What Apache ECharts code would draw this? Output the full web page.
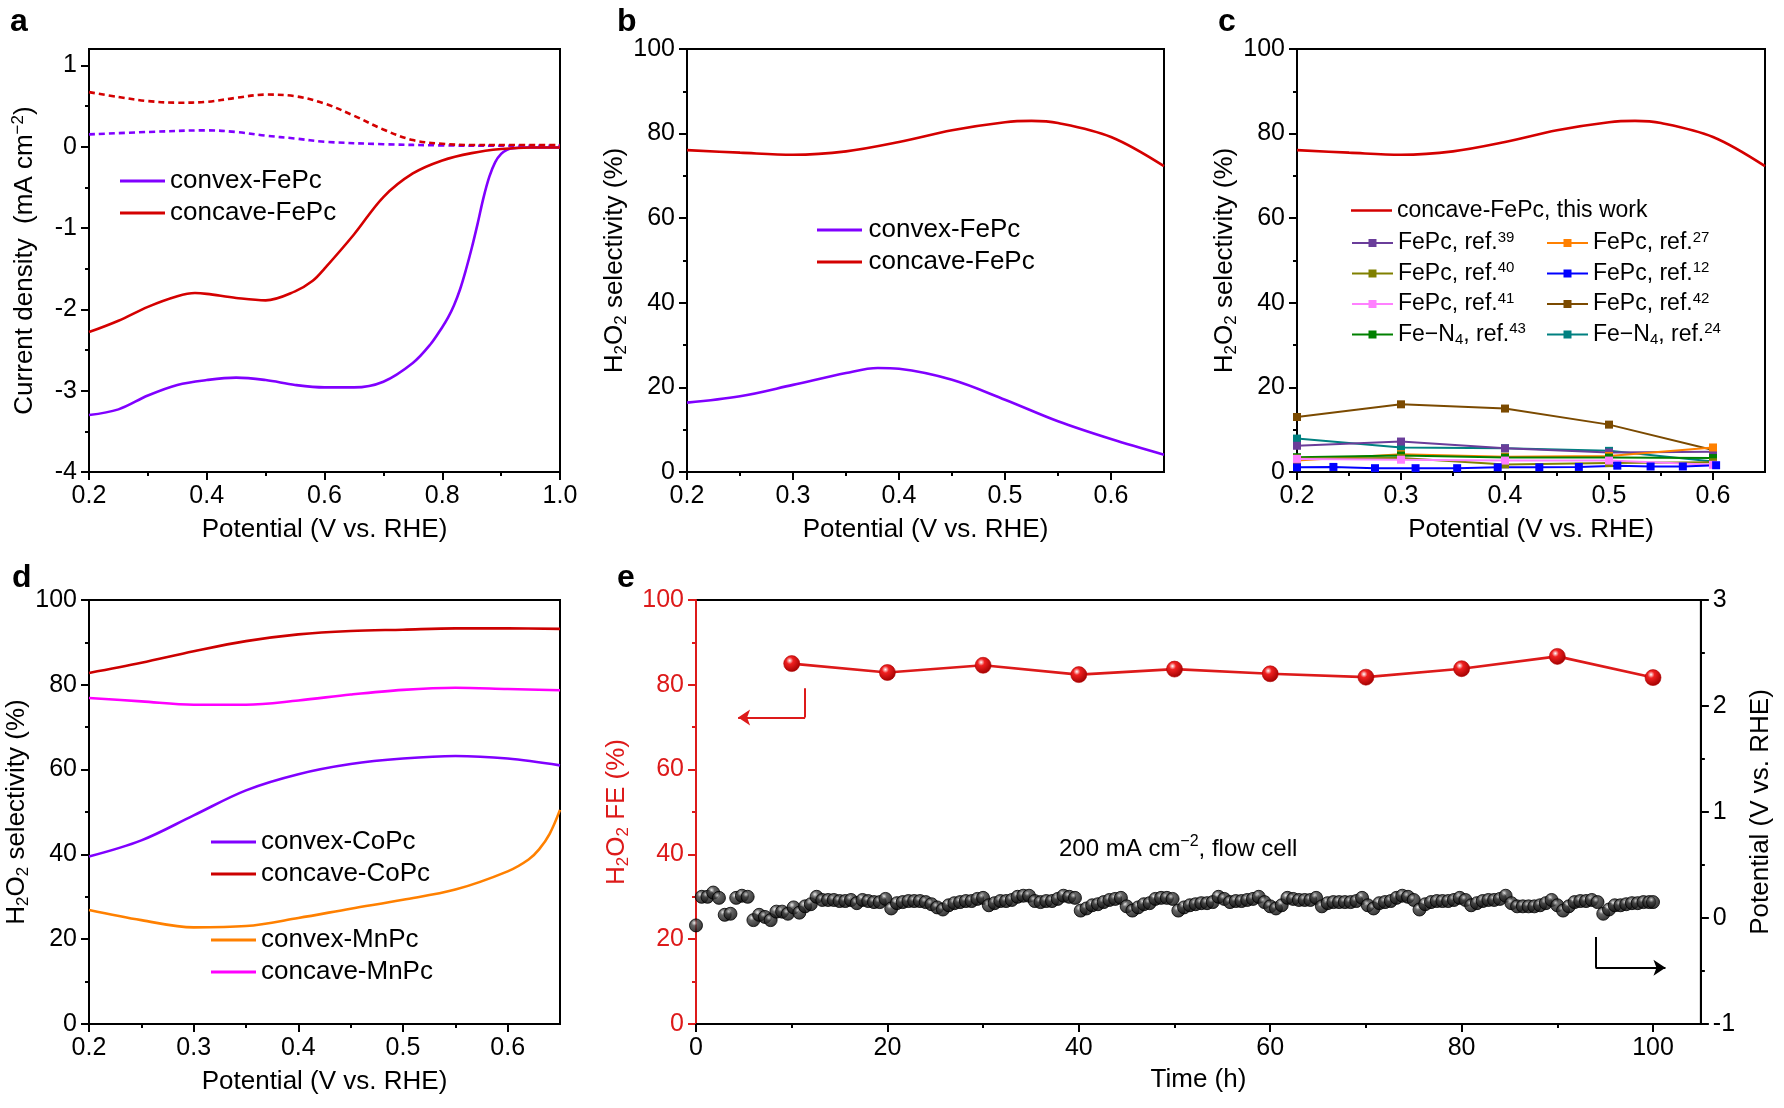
<!DOCTYPE html>
<html><head><meta charset="utf-8">
<script src="https://cdn.jsdelivr.net/npm/echarts@6.0.0/dist/echarts.min.js"></script>
<style>html,body{margin:0;padding:0;background:#fff}#chart{width:1784px;height:1108px}</style>
</head><body><div id="chart"></div>
<script>
// ---------------- DATA ----------------
// Panel a: LSV (solid = disk current, dashed = ring current)
const aConvexX = [0.2,0.25,0.3,0.35,0.4,0.45,0.5,0.55,0.6,0.65,0.7,0.75,0.78,0.8,0.81,0.82,0.83,0.84,0.85,0.86,0.87,0.88,0.89,0.9,0.91,0.92,0.94,1.0];
const aConvexY = [-3.30,-3.23,-3.06,-2.93,-2.87,-2.84,-2.87,-2.93,-2.96,-2.96,-2.89,-2.66,-2.43,-2.22,-2.10,-1.95,-1.76,-1.52,-1.25,-0.95,-0.63,-0.37,-0.19,-0.09,-0.04,-0.02,-0.01,-0.01];
const aConcaveX = [0.2,0.25,0.3,0.35,0.38,0.4,0.45,0.5,0.55,0.58,0.6,0.65,0.7,0.75,0.8,0.85,0.9,0.95,1.0];
const aConcaveY = [-2.28,-2.14,-1.97,-1.84,-1.80,-1.81,-1.86,-1.89,-1.78,-1.65,-1.50,-1.08,-0.62,-0.33,-0.17,-0.08,-0.03,-0.01,-0.01];
const aRingConcaveX = [0.2,0.25,0.3,0.35,0.4,0.45,0.5,0.55,0.6,0.65,0.7,0.75,0.8,0.85,0.9,1.0];
const aRingConcaveY = [0.67,0.61,0.56,0.54,0.55,0.60,0.64,0.62,0.53,0.38,0.21,0.08,0.035,0.02,0.02,0.02];
const aRingConvexX = [0.2,0.3,0.4,0.45,0.5,0.55,0.6,0.7,0.8,0.9,1.0];
const aRingConvexY = [0.15,0.18,0.20,0.18,0.135,0.10,0.06,0.03,0.015,0.01,0.01];

// Panel b: H2O2 selectivity
const bX = [0.2,0.25,0.3,0.35,0.4,0.45,0.5,0.525,0.55,0.6,0.65];
const bConcave = [76.1,75.5,75.0,75.8,78.0,80.8,82.7,83.0,82.5,79.2,72.3];
const bConvexX = [0.2,0.25,0.3,0.35,0.38,0.4,0.45,0.5,0.55,0.6,0.65];
const bConvex = [16.4,17.9,20.6,23.4,24.6,24.4,21.8,17.1,12.0,7.8,4.1];

// Panel c: comparison with literature
const cX = [0.2,0.3,0.4,0.5,0.6];
const cRef39 = [6.2,7.2,5.6,4.6,4.8];
const cRef40 = [3.2,3.3,1.8,2.1,2.3];
const cRef41 = [3.1,2.9,2.7,2.7,1.7];
const cRef43 = [3.5,3.9,3.4,3.4,3.3];
const cRef27 = [2.7,4.2,3.6,3.8,5.8];
const cRef42 = [13.0,16.0,15.0,11.2,5.2];
const cRef24 = [7.9,5.8,5.6,5.0,2.5];
const cRef12X = [0.2,0.235,0.275,0.314,0.354,0.393,0.433,0.471,0.508,0.54,0.571,0.603];
const cRef12 = [1.1,1.2,0.9,0.9,0.9,1.1,1.1,1.2,1.5,1.3,1.3,1.6];

// Panel d
const dX = [0.2,0.25,0.3,0.35,0.4,0.45,0.5,0.55,0.6,0.65];
const dConcaveCo = [82.8,85.2,87.9,90.3,91.9,92.7,93.0,93.3,93.3,93.2];
const dConcaveMn = [76.9,76.1,75.3,75.3,76.3,77.7,78.8,79.3,79.0,78.7];
const dConvexCo = [39.5,43.3,49.2,55.1,58.9,61.3,62.6,63.2,62.6,61.0];
const dConvexMnX = [0.2,0.25,0.3,0.35,0.4,0.45,0.5,0.55,0.6,0.62,0.63,0.64,0.65];
const dConvexMn = [26.9,24.5,22.8,23.1,25.0,27.2,29.3,31.7,36.0,38.8,41.2,44.8,50.5];

// Panel e: stability
const eTime = [10,20,30,40,50,60,70,80,90,100];
const eFE = [85.0,82.9,84.6,82.4,83.7,82.6,81.8,83.8,86.7,81.7];
const ePotential = [[0,-0.07],[0.6,0.20],[1.2,0.20],[1.8,0.24],[2.4,0.19],[3.0,0.03],[3.6,0.04],[4.2,0.19],[4.8,0.21],[5.4,0.20],
[6.0,-0.02],[6.6,0.03],[7.2,0.01],[7.8,-0.02],[8.4,0.06],[9.0,0.06],[9.6,0.04],[10.2,0.10],[10.8,0.05],[11.4,0.11],
[12.0,0.13],[12.6,0.20],[13.2,0.17],[13.8,0.17],[14.4,0.17],[15.0,0.16],[15.6,0.16],[16.2,0.17],[16.8,0.14],[17.4,0.17],
[18.0,0.16],[18.6,0.15],[19.2,0.15],[19.8,0.18],[20.4,0.09],[21.0,0.14],[21.6,0.15],[22.2,0.16],[22.8,0.16],[23.4,0.16],
[24.0,0.15],[24.6,0.13],[25.2,0.10],[25.8,0.08],[26.4,0.12],[27.0,0.14],[27.6,0.15],[28.2,0.16],[28.8,0.16],[29.4,0.18],
[30.0,0.19],[30.6,0.12],[31.2,0.14],[31.8,0.16],[32.4,0.16],[33.0,0.17],[33.6,0.20],[34.2,0.21],[34.8,0.21],[35.4,0.16],
[36.0,0.15],[36.6,0.16],[37.2,0.16],[37.8,0.18],[38.4,0.21],[39.0,0.20],[39.6,0.19],[40.2,0.07],[40.8,0.09],[41.4,0.12],
[42.0,0.13],[42.6,0.15],[43.2,0.17],[43.8,0.18],[44.4,0.19],[45.0,0.11],[45.6,0.07],[46.2,0.10],[46.8,0.13],[47.4,0.14],
[48.0,0.18],[48.6,0.19],[49.2,0.19],[49.8,0.18],[50.4,0.07],[51.0,0.10],[51.6,0.12],[52.2,0.13],[52.8,0.14],[53.4,0.14],
[54.0,0.15],[54.6,0.20],[55.2,0.18],[55.8,0.15],[56.4,0.16],[57.0,0.16],[57.6,0.17],[58.2,0.18],[58.8,0.20],[59.4,0.15],
[60.0,0.11],[60.6,0.09],[61.2,0.12],[61.8,0.19],[62.4,0.18],[63.0,0.17],[63.6,0.17],[64.2,0.17],[64.8,0.19],[65.4,0.11],
[66.0,0.14],[66.6,0.15],[67.2,0.15],[67.8,0.15],[68.4,0.15],[69.0,0.16],[69.6,0.19],[70.2,0.12],[70.8,0.09],[71.4,0.14],
[72.0,0.15],[72.6,0.16],[73.2,0.19],[73.8,0.21],[74.4,0.20],[75.0,0.17],[75.6,0.08],[76.2,0.13],[76.8,0.15],[77.4,0.16],
[78.0,0.16],[78.6,0.16],[79.2,0.17],[79.8,0.19],[80.4,0.17],[81.0,0.12],[81.6,0.14],[82.2,0.16],[82.8,0.17],[83.4,0.17],
[84.0,0.18],[84.6,0.21],[85.2,0.14],[85.8,0.11],[86.4,0.11],[87.0,0.11],[87.6,0.11],[88.2,0.12],[88.8,0.14],[89.4,0.17],
[90.0,0.12],[90.6,0.07],[91.2,0.11],[91.8,0.15],[92.4,0.16],[93.0,0.16],[93.6,0.17],[94.2,0.15],[94.8,0.04],[95.4,0.08],
[96.0,0.12],[96.6,0.12],[97.2,0.13],[97.8,0.14],[98.4,0.14],[99.0,0.15],[99.6,0.15],[100.0,0.15]];

// Tick values
const aXMajor = [0.2,0.4,0.6,0.8,1.0], aXMinor = [0.3,0.5,0.7,0.9];
const aYMajor = [-4,-3,-2,-1,0,1], aYMinor = [-3.5,-2.5,-1.5,-0.5,0.5];
const selXMajor = [0.2,0.3,0.4,0.5,0.6], selXMinor = [0.25,0.35,0.45,0.55];
const pctMajor = [0,20,40,60,80,100], pctMinor = [10,30,50,70,90];
const eXMajor = [0,20,40,60,80,100], eXMinor = [10,30,50,70,90];
const eVMajor = [-1,0,1,2,3], eVMinor = [-0.5,0.5,1.5,2.5];

// ---------------- STYLE ----------------
const FONT = "'Liberation Sans', Arial, Helvetica, sans-serif";
const RED = '#d40000', PURPLE = '#8000ff', ERED = '#dd1a1a';
const zip = (xs, ys) => xs.map((x, i) => [x, ys[i]]);

const grids = [
  {left: 89, top: 49, width: 471, height: 423},
  {left: 687, top: 49, width: 477, height: 423},
  {left: 1297, top: 49, width: 468, height: 423},
  {left: 89, top: 600, width: 471, height: 424},
  {left: 696, top: 600, width: 1006, height: 424}
].map(g => Object.assign({show: true, borderColor: '#000', borderWidth: 2, backgroundColor: 'transparent'}, g));

const richStyles = (size, color) => ({
  n: {fontSize: size, fontFamily: FONT, color: color, lineHeight: 30},
  s: {fontSize: Math.round(size*0.66), fontFamily: FONT, color: color, lineHeight: 14, verticalAlign: 'bottom'},
  p: {fontSize: Math.round(size*0.66), fontFamily: FONT, color: color, lineHeight: 14, verticalAlign: 'top'}
});

function mainAxis(dim, grid, min, max, major, fmt, pos, color, name, nameGap) {
  color = color || '#000';
  const ax = {
    type: 'value', gridIndex: grid, min: min, max: max, position: pos,
    axisLine: {show: true, onZero: false, lineStyle: {color: color, width: 2}},
    axisTick: {show: true, inside: false, length: 8, customValues: major, lineStyle: {color: color, width: 2}},
    axisLabel: {show: true, customValues: major, formatter: fmt, margin: 12, fontSize: 25, fontFamily: FONT, color: color},
    splitLine: {show: false}, minorTick: {show: false}
  };
  if (name) {
    ax.name = name; ax.nameLocation = 'middle'; ax.nameGap = nameGap;
    if (dim === 'y') ax.nameRotate = 90;
    ax.nameTextStyle = {fontSize: 26, fontFamily: FONT, color: color, lineHeight: 30, rich: richStyles(26, color)};
  }
  return ax;
}
function minorAxis(grid, min, max, ticks, pos, color) {
  color = color || '#000';
  return {
    type: 'value', gridIndex: grid, min: min, max: max, position: pos,
    axisLine: {show: false, onZero: false},
    axisTick: {show: true, inside: false, length: 4, customValues: ticks, lineStyle: {color: color, width: 2}},
    axisLabel: {show: false}, splitLine: {show: false}
  };
}
const f1 = v => v.toFixed(1);
const f0 = v => String(Math.round(v));
const H2O2SEL = '{n|H}{s|2}{n|O}{s|2}{n| selectivity (%)}';
const POT = 'Potential (V vs. RHE)';

const xAxes = [
  mainAxis('x', 0, 0.2, 1.0, aXMajor, f1, 'bottom', null, POT, 43),
  mainAxis('x', 1, 0.2, 0.65, selXMajor, f1, 'bottom', null, POT, 43),
  mainAxis('x', 2, 0.2, 0.65, selXMajor, f1, 'bottom', null, POT, 43),
  mainAxis('x', 3, 0.2, 0.65, selXMajor, f1, 'bottom', null, POT, 43),
  mainAxis('x', 4, 0, 105, eXMajor, f0, 'bottom', null, 'Time (h)', 41),
  minorAxis(0, 0.2, 1.0, aXMinor, 'bottom'),
  minorAxis(1, 0.2, 0.65, selXMinor, 'bottom'),
  minorAxis(2, 0.2, 0.65, selXMinor, 'bottom'),
  minorAxis(3, 0.2, 0.65, selXMinor, 'bottom'),
  minorAxis(4, 0, 105, eXMinor, 'bottom')
];
const yAxes = [
  mainAxis('y', 0, -4, 1.2, aYMajor, f0, 'left', null, '{n|Current density  (mA cm}{p|−2}{n|)}', 49),
  mainAxis('y', 1, 0, 100, pctMajor, f0, 'left', null, H2O2SEL, 46),
  mainAxis('y', 2, 0, 100, pctMajor, f0, 'left', null, H2O2SEL, 52),
  mainAxis('y', 3, 0, 100, pctMajor, f0, 'left', null, H2O2SEL, 51),
  mainAxis('y', 4, 0, 100, pctMajor, f0, 'left', ERED, '{n|H}{s|2}{n|O}{s|2}{n| FE (%)}', 52),
  mainAxis('y', 4, -1, 3, eVMajor, f0, 'right', null, POT, 37),
  minorAxis(0, -4, 1.2, aYMinor, 'left'),
  minorAxis(1, 0, 100, pctMinor, 'left'),
  minorAxis(2, 0, 100, pctMinor, 'left'),
  minorAxis(3, 0, 100, pctMinor, 'left'),
  minorAxis(4, 0, 100, pctMinor, 'left', ERED),
  minorAxis(4, -1, 3, eVMinor, 'right')
];

function curve(name, grid, data, color, opts) {
  return Object.assign({
    type: 'line', name: name, xAxisIndex: grid, yAxisIndex: grid, data: data,
    symbol: 'none', smooth: 0.35,
    lineStyle: {color: color, width: 2.6}, itemStyle: {color: color}, z: 3
  }, opts || {});
}
function refLine(name, xs, ys, color) {
  return {
    type: 'line', name: name, xAxisIndex: 2, yAxisIndex: 2, data: zip(xs, ys),
    symbol: 'rect', symbolSize: 8, showSymbol: true,
    lineStyle: {color: color, width: 2}, itemStyle: {color: color}, z: 3
  };
}

const refNames = ['FePc, ref.39','FePc, ref.40','FePc, ref.41','Fe−N4, ref.43','FePc, ref.27','FePc, ref.12','FePc, ref.42','Fe−N4, ref.24'];
const refRich = {
  'FePc, ref.39': '{n|FePc, ref.}{p|39}',
  'FePc, ref.40': '{n|FePc, ref.}{p|40}',
  'FePc, ref.41': '{n|FePc, ref.}{p|41}',
  'Fe−N4, ref.43': '{n|Fe−N}{s|4}{n|, ref.}{p|43}',
  'FePc, ref.27': '{n|FePc, ref.}{p|27}',
  'FePc, ref.12': '{n|FePc, ref.}{p|12}',
  'FePc, ref.42': '{n|FePc, ref.}{p|42}',
  'Fe−N4, ref.24': '{n|Fe−N}{s|4}{n|, ref.}{p|24}'
};
const legRich = {
  n: {fontSize: 23, fontFamily: FONT, color: '#000', lineHeight: 26},
  s: {fontSize: 15, fontFamily: FONT, color: '#000', lineHeight: 12, verticalAlign: 'bottom'},
  p: {fontSize: 15, fontFamily: FONT, color: '#000', lineHeight: 12, verticalAlign: 'top'}
};

const sphere = (hi, mid, lo) => ({type: 'radial', x: 0.38, y: 0.32, r: 0.7,
  colorStops: [{offset: 0, color: hi}, {offset: 0.3, color: mid}, {offset: 1, color: lo}]});

const series = [
  // a
  curve('ring-convex', 0, zip(aRingConvexX, aRingConvexY), PURPLE, {lineStyle: {color: PURPLE, width: 2.6, type: [6, 4]}}),
  curve('ring-concave', 0, zip(aRingConcaveX, aRingConcaveY), RED, {lineStyle: {color: RED, width: 2.6, type: [6, 4]}}),
  curve('convex-FePc', 0, zip(aConvexX, aConvexY), PURPLE),
  curve('concave-FePc', 0, zip(aConcaveX, aConcaveY), RED),
  // b
  curve('concave-FePc', 1, zip(bX, bConcave), RED),
  curve('convex-FePc', 1, zip(bConvexX, bConvex), PURPLE),
  // c
  curve('concave-FePc, this work', 2, zip(bX, bConcave), RED),
  refLine('FePc, ref.42', cX, cRef42, '#7b4a00'),
  refLine('Fe−N4, ref.24', cX, cRef24, '#008080'),
  refLine('FePc, ref.39', cX, cRef39, '#6a3d9a'),
  refLine('FePc, ref.27', cX, cRef27, '#ff8000'),
  refLine('Fe−N4, ref.43', cX, cRef43, '#008000'),
  refLine('FePc, ref.40', cX, cRef40, '#808000'),
  refLine('FePc, ref.41', cX, cRef41, '#ff80ff'),
  refLine('FePc, ref.12', cRef12X, cRef12, '#0000ff'),
  // d
  curve('concave-CoPc', 3, zip(dX, dConcaveCo), '#cc0000'),
  curve('concave-MnPc', 3, zip(dX, dConcaveMn), '#ff00ff'),
  curve('convex-CoPc', 3, zip(dX, dConvexCo), PURPLE),
  curve('convex-MnPc', 3, zip(dConvexMnX, dConvexMn), '#ff8000'),
  // e
  {
    type: 'scatter', name: 'Potential', xAxisIndex: 4, yAxisIndex: 5, data: ePotential,
    symbol: 'circle', symbolSize: 13,
    itemStyle: {color: sphere('#e8e8e8', '#404040', '#000000'), borderColor: '#000', borderWidth: 1}, z: 3,
    markLine: {
      silent: true, symbol: ['none', 'none'], symbolSize: 12, label: {show: false},
      lineStyle: {color: '#000', width: 2, type: 'solid'}, animation: false,
      data: [
        [{coord: [94.0, -0.18]}, {coord: [94.0, -0.47]}],
        [{coord: [94.0, -0.47], symbol: 'none'}, {coord: [101.3, -0.47], symbol: 'arrow'}]
      ]
    }
  },
  {
    type: 'line', name: 'FE', xAxisIndex: 4, yAxisIndex: 4, data: zip(eTime, eFE),
    symbol: 'circle', symbolSize: 16, showSymbol: true,
    lineStyle: {color: ERED, width: 2.6},
    itemStyle: {color: sphere('#ffffff', '#f02020', '#a00000'), borderColor: '#b00000', borderWidth: 0.6}, z: 4,
    markLine: {
      silent: true, symbol: ['none', 'none'], symbolSize: 12, label: {show: false},
      lineStyle: {color: ERED, width: 2, type: 'solid'}, animation: false,
      data: [
        [{coord: [11.4, 79.2]}, {coord: [11.4, 72.3]}],
        [{coord: [11.4, 72.3], symbol: 'none'}, {coord: [4.4, 72.3], symbol: 'arrow'}]
      ]
    }
  }
];

const baseLegend = {orient: 'vertical', padding: 0, selectedMode: false, itemHeight: 12,
  textStyle: {fontSize: 26, fontFamily: FONT, color: '#000'}};
const lineIcon = 'path://M0,0 L45,0 L45,3 L0,3 Z';
const legends = [
  Object.assign({}, baseLegend, {data: ['convex-FePc', 'concave-FePc'], left: 120, top: 168, itemGap: 6, itemWidth: 45, itemHeight: 3, icon: lineIcon}),
  Object.assign({}, baseLegend, {data: ['convex-FePc', 'concave-FePc'], left: 817, top: 217, itemGap: 6, itemWidth: 48, itemHeight: 3, icon: lineIcon}),
  Object.assign({}, baseLegend, {data: ['concave-FePc, this work'], left: 1351, top: 199, itemWidth: 41, itemHeight: 3, icon: lineIcon,
    textStyle: {fontSize: 23, fontFamily: FONT, color: '#000'}}),
  Object.assign({}, baseLegend, {data: refNames.slice(0, 4), left: 1351, top: 230, itemGap: 6, itemWidth: 41, itemHeight: 10,
    formatter: n => refRich[n], textStyle: {fontSize: 23, fontFamily: FONT, color: '#000', rich: legRich}}),
  Object.assign({}, baseLegend, {data: refNames.slice(4), left: 1546, top: 230, itemGap: 6, itemWidth: 41, itemHeight: 10,
    formatter: n => refRich[n], textStyle: {fontSize: 23, fontFamily: FONT, color: '#000', rich: legRich}}),
  Object.assign({}, baseLegend, {data: ['convex-CoPc', 'concave-CoPc'], left: 211, top: 829, itemGap: 6, itemWidth: 45, itemHeight: 3, icon: lineIcon}),
  Object.assign({}, baseLegend, {data: ['convex-MnPc', 'concave-MnPc'], left: 211, top: 927, itemGap: 6, itemWidth: 45, itemHeight: 3, icon: lineIcon})
];

const letter = (t, x, y) => ({type: 'text', left: x, top: y, z: 10,
  style: {text: t, font: "bold 32px 'Liberation Sans', Arial, sans-serif", fill: '#000'}});
const graphic = [
  letter('a', 10, 6), letter('b', 617, 6), letter('c', 1218, 6),
  letter('d', 12, 562), letter('e', 617, 562),
  {type: 'text', left: 1059, top: 834, z: 10, style: {
    text: '{n|200 mA cm}{p|−2}{n|, flow cell}',
    rich: {
      n: {fontSize: 24, fontFamily: FONT, fill: '#000', lineHeight: 30},
      p: {fontSize: 16, fontFamily: FONT, fill: '#000', lineHeight: 14, verticalAlign: 'top'}
    }}}
];

const chart = echarts.init(document.getElementById('chart'), null, {renderer: 'canvas'});
chart.setOption({
  animation: false,
  backgroundColor: '#fff',
  textStyle: {fontFamily: FONT},
  grid: grids, xAxis: xAxes, yAxis: yAxes,
  legend: legends, series: series, graphic: graphic
});
</script></body></html>
